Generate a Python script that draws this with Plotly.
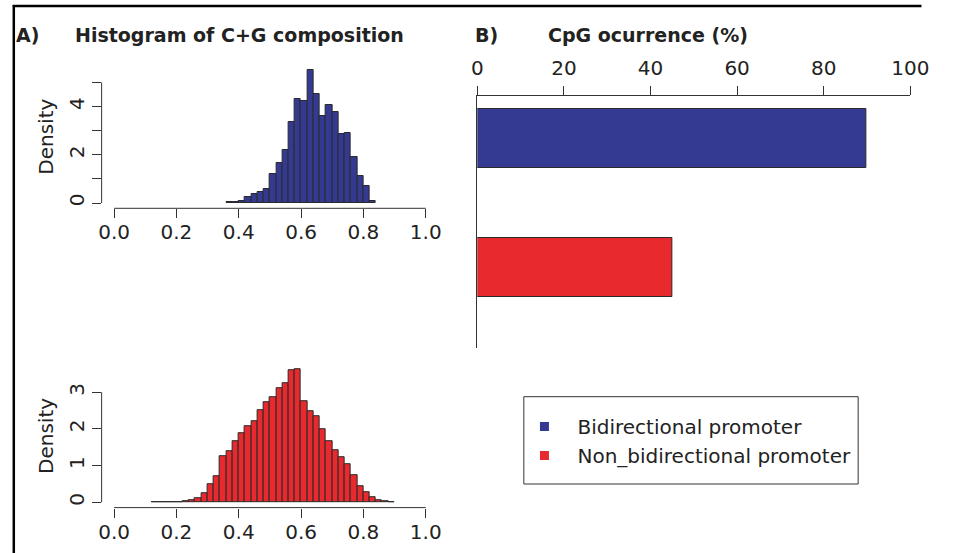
import plotly.graph_objects as go

# ---------------- data ----------------
# Panel A (top): bidirectional promoters, C+G composition density per 0.02-wide bin
bi_bin_centers = [0.37, 0.39, 0.41, 0.43, 0.45, 0.47, 0.49, 0.51, 0.53, 0.55, 0.57, 0.59,
                  0.61, 0.63, 0.65, 0.67, 0.69, 0.71, 0.73, 0.75, 0.77, 0.79, 0.81, 0.83]
bi_density = [0.03, 0.04, 0.08, 0.26, 0.36, 0.47, 0.58, 1.19, 1.66, 2.19, 3.35, 4.33,
              4.23, 5.50, 4.52, 3.60, 4.05, 3.78, 2.88, 2.92, 1.91, 1.12, 0.72, 0.08]

# Panel A (bottom): non-bidirectional promoters
non_bin_centers = [0.13, 0.15, 0.17, 0.19, 0.21, 0.23, 0.25, 0.27, 0.29, 0.31, 0.33, 0.35, 0.37,
                   0.39, 0.41, 0.43, 0.45, 0.47, 0.49, 0.51, 0.53, 0.55, 0.57, 0.59, 0.61, 0.63,
                   0.65, 0.67, 0.69, 0.71, 0.73, 0.75, 0.77, 0.79, 0.81, 0.83, 0.85, 0.87, 0.89]
non_density = [0.004, 0.004, 0.006, 0.008, 0.012, 0.02, 0.05, 0.10, 0.26, 0.50, 0.71, 1.25, 1.40,
               1.66, 1.89, 2.08, 2.20, 2.52, 2.72, 2.87, 3.12, 3.25, 3.60, 3.62, 2.76, 2.47,
               2.34, 1.99, 1.67, 1.41, 1.24, 1.03, 0.74, 0.45, 0.28, 0.13, 0.05, 0.02, 0.01]
bin_width = 0.02

# Panel B: CpG occurrence (%)
categories = ["Bidirectional promoter", "Non_bidirectional promoter"]
cpg_percent = [89.8, 45.0]

hist_ticks = [0.0, 0.2, 0.4, 0.6, 0.8, 1.0]
hist_tick_text = ["0.0", "0.2", "0.4", "0.6", "0.8", "1.0"]
bar_ticks = [0, 20, 40, 60, 80, 100]

# ---------------- style ----------------
W, H = 958, 553
BLUE = "rgb(52,58,146)"
RED = "rgb(232,41,46)"
EDGE = "#2a2a2a"
AX = "#333333"
TXT = "#222222"
FONT = "DejaVu Sans, Liberation Sans, Arial, sans-serif"
FS = 20
TFS = 19


def px(x):
    return x / W


def py(y):
    return 1 - y / H


fig = go.Figure()
fig.add_trace(go.Bar(x=bi_bin_centers, y=bi_density, width=bin_width,
                     marker=dict(color=BLUE, line=dict(color=EDGE, width=1)),
                     xaxis="x", yaxis="y", showlegend=False))
fig.add_trace(go.Bar(x=non_bin_centers, y=non_density, width=bin_width,
                     marker=dict(color=RED, line=dict(color=EDGE, width=1)),
                     xaxis="x2", yaxis="y2", showlegend=False))
fig.add_trace(go.Bar(y=categories, x=cpg_percent, orientation="h", width=0.454,
                     marker=dict(color=[BLUE, RED], line=dict(color=EDGE, width=1)),
                     xaxis="x3", yaxis="y3", showlegend=False))
# legend entries (small squares like the original)
for name, col in zip(categories, [BLUE, RED]):
    fig.add_trace(go.Scatter(x=[None], y=[None], mode="markers", name=name,
                             marker=dict(symbol="square", size=9, color=col, line=dict(width=0)),
                             xaxis="x3", yaxis="y3"))

tickfont = dict(family=FONT, size=FS, color=TXT)
hist_x_dom = [px(98.2), px(443.8)]
common_x = dict(range=[-0.04, 1.04], tickmode="array", tickvals=hist_ticks, ticktext=hist_tick_text,
                ticks="outside", ticklen=9, tickwidth=1, tickcolor=AX, showline=False,
                showgrid=False, zeroline=False, tickfont=tickfont, fixedrange=True,
                ticklabelstandoff=-3)
common_y = dict(ticks="outside", ticklen=9, tickwidth=1, tickcolor=AX, showline=False,
                showgrid=False, zeroline=False, tickfont=tickfont, tickangle=-90,
                fixedrange=True,
                title=dict(text="Density", font=dict(family=FONT, size=FS, color=TXT), standoff=5))

fig.update_layout(
    width=W, height=H, margin=dict(l=0, r=0, t=0, b=0),
    paper_bgcolor="white", plot_bgcolor="white",
    font=dict(family=FONT, size=FS, color=TXT),
    bargap=0,
    xaxis=dict(domain=hist_x_dom, anchor="y", **common_x),
    yaxis=dict(domain=[py(208.3), py(65)], range=[-0.22, 5.726], anchor="x",
               tickmode="array", tickvals=[0, 2, 4],
               minor=dict(tickvals=[1, 3, 5], ticks="outside", ticklen=9, tickwidth=1, tickcolor=AX),
               **common_y),
    xaxis2=dict(domain=hist_x_dom, anchor="y2", **common_x),
    yaxis2=dict(domain=[py(507.6), py(364.2)], range=[-0.145, 3.765], anchor="x2",
                tickmode="array", tickvals=[0, 1, 2, 3], **common_y),
    xaxis3=dict(domain=[px(484), px(928.5)], range=[0, 100], anchor="y3", side="top",
                tickmode="array", tickvals=bar_ticks, ticks="outside", ticklen=9, tickwidth=1,
                tickcolor=AX, showline=True, linecolor=AX, linewidth=1, showgrid=False,
                zeroline=False, tickfont=tickfont, fixedrange=True, ticklabelstandoff=3),
    yaxis3=dict(domain=[py(348), py(96)], anchor="x3", type="category",
                categoryorder="array", categoryarray=categories, range=[1.62, -0.327],
                showticklabels=False, ticks="", showline=True, linecolor=AX, linewidth=1,
                showgrid=False, zeroline=False, fixedrange=True),
    legend=dict(x=px(519), y=py(407), xanchor="left", yanchor="top",
                bgcolor="rgba(0,0,0,0)", borderwidth=0, itemwidth=56,
                font=dict(family=FONT, size=FS, color=TXT), tracegroupgap=0),
)

shapes = []
# R-style axis lines spanning first to last tick
shapes.append(dict(type="line", xref="x", yref="paper", x0=0, x1=1, y0=py(208.3), y1=py(208.3),
                   line=dict(color=AX, width=1)))
shapes.append(dict(type="line", xref="paper", yref="y", x0=px(98.2), x1=px(98.2), y0=0, y1=5,
                   line=dict(color=AX, width=1)))
shapes.append(dict(type="line", xref="x2", yref="paper", x0=0, x1=1, y0=py(507.6), y1=py(507.6),
                   line=dict(color=AX, width=1)))
shapes.append(dict(type="line", xref="paper", yref="y2", x0=px(98.2), x1=px(98.2), y0=0, y1=3,
                   line=dict(color=AX, width=1)))
# legend box
shapes.append(dict(type="rect", xref="paper", yref="paper", x0=px(531.7), x1=px(875),
                   y0=py(484), y1=py(396.7), line=dict(color=AX, width=1)))
# outer frame: top edge and left edge
shapes.append(dict(type="line", xref="paper", yref="paper", x0=px(7), x1=px(940), y0=py(6), y1=py(6),
                   line=dict(color="black", width=2.5)))
shapes.append(dict(type="line", xref="paper", yref="paper", x0=px(8), x1=px(8), y0=py(5), y1=py(553),
                   line=dict(color="black", width=2.5)))
fig.update_layout(shapes=shapes)

bold = dict(family=FONT, size=TFS, color=TXT)
ann = [
    dict(text="<b>A)</b>", x=px(8), y=py(35), xanchor="left", yanchor="middle"),
    dict(text="<b>Histogram of C+G composition</b>", x=px(69), y=py(35), xanchor="left", yanchor="middle"),
    dict(text="<b>B)</b>", x=px(480), y=py(35), xanchor="left", yanchor="middle"),
    dict(text="<b>CpG ocurrence (%)</b>", x=px(554), y=py(35), xanchor="left", yanchor="middle"),
]
for a in ann:
    a.update(xref="paper", yref="paper", showarrow=False, font=bold)
fig.update_layout(annotations=ann)

fig.write_html("out.html")
